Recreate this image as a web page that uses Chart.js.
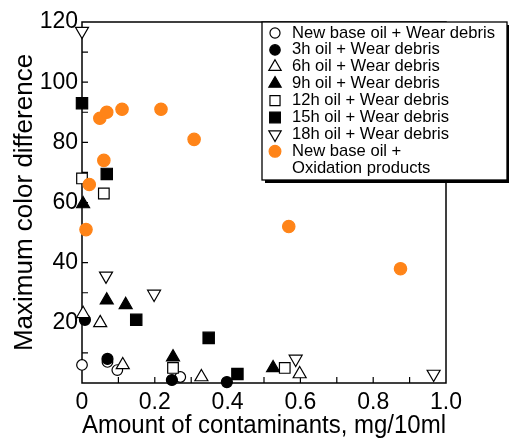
<!DOCTYPE html>
<html>
<head>
<meta charset="utf-8">
<script src="https://cdn.jsdelivr.net/npm/chart.js@4/dist/chart.umd.min.js"></script>
<style>
  body { margin: 0; background: #fff; }
  canvas { display: block; }
</style>
</head>
<body>
<canvas id="chart" width="509" height="441"></canvas>
<script>
// values (x in mg/10ml, y = max color difference)
const newBaseX = [0, 0.07, 0.097, 0.27];
const newBaseY = [6, 7, 4.3, 2];
const h3X = [0.008, 0.07, 0.247, 0.398];
const h3Y = [21, 8, 1, 0.3];
const h6X = [0.003, 0.05, 0.112, 0.328, 0.598];
const h6Y = [23, 20, 6, 2, 3];
const h9X = [0.003, 0.068, 0.12, 0.25, 0.525];
const h9Y = [59.5, 27.5, 26, 8.6, 5];
const h12X = [0, 0.06, 0.25, 0.557];
const h12Y = [68, 63, 5, 5];
const h15X = [0, 0.068, 0.149, 0.348, 0.427];
const h15Y = [93, 69.5, 21, 15, 3];
const h18X = [0, 0.066, 0.198, 0.587, 0.966];
const h18Y = [117, 35.6, 29.6, 8, 3];
const oxX = [0.011, 0.02, 0.049, 0.06, 0.068, 0.11, 0.217, 0.308, 0.568, 0.875];
const oxY = [51, 66, 88, 74, 90, 91, 91, 81, 52, 38];

const labels = [
  "New base oil + Wear debris",
  "3h oil + Wear debris",
  "6h oil + Wear debris",
  "9h oil + Wear debris",
  "12h oil + Wear debris",
  "15h oil + Wear debris",
  "18h oil + Wear debris",
  ["New base oil +", "Oxidation products"]
];

const FONT = "'Liberation Sans', Arial, sans-serif";
const ORANGE = "#ff8418";

function pts(xs, ys) {
  return xs.map((x, i) => ({ x: x, y: ys[i] }));
}

// marker style per series
const styles = [
  { pointStyle: "circle", radius: 5.3, fill: "#fff", rotation: 0 },
  { pointStyle: "circle", radius: 5.5, fill: "#000", rotation: 0 },
  { pointStyle: "triangle", radius: 7.5, fill: "#fff", rotation: 0 },
  { pointStyle: "triangle", radius: 7.5, fill: "#000", rotation: 0 },
  { pointStyle: "rect", radius: 7.5, fill: "#fff", rotation: 0 },
  { pointStyle: "rect", radius: 8, fill: "#000", rotation: 0 },
  { pointStyle: "triangle", radius: 7.5, fill: "#fff", rotation: 180 },
  { pointStyle: "circle", radius: 6.2, fill: ORANGE, rotation: 0, border: ORANGE }
];

const series = [
  pts(newBaseX, newBaseY), pts(h3X, h3Y), pts(h6X, h6Y), pts(h9X, h9Y),
  pts(h12X, h12Y), pts(h15X, h15Y), pts(h18X, h18Y), pts(oxX, oxY)
];

const datasets = series.map((d, i) => ({
  label: Array.isArray(labels[i]) ? labels[i].join(" ") : labels[i],
  data: d,
  order: -i,
  clip: false,
  pointStyle: styles[i].pointStyle,
  pointRadius: styles[i].radius,
  pointHoverRadius: styles[i].radius,
  pointRotation: styles[i].rotation,
  backgroundColor: styles[i].fill,
  borderColor: styles[i].border || "#000",
  borderWidth: 1.2
}));

// frame and inward ticks
const framePlugin = {
  id: "frame",
  beforeDatasetsDraw(chart) {
    const { ctx, chartArea: a, scales } = chart;
    ctx.save();
    ctx.strokeStyle = "#000";
    ctx.lineWidth = 1.5;
    ctx.strokeRect(a.left, a.top, a.right - a.left, a.bottom - a.top);
    ctx.lineWidth = 1.2;
    ctx.beginPath();
    for (let v = 1; v < 10; v++) {
      const px = scales.x.getPixelForValue(v / 10);
      ctx.moveTo(px, a.bottom);
      ctx.lineTo(px, a.bottom - 6);
    }
    for (let v = 10; v < 120; v += 10) {
      const py = scales.y.getPixelForValue(v);
      ctx.moveTo(a.left, py);
      ctx.lineTo(a.left + 6, py);
    }
    ctx.stroke();
    ctx.restore();
  }
};

// legend box drawn inside the plot, top right
const legendPlugin = {
  id: "boxLegend",
  afterDraw(chart) {
    const ctx = chart.ctx;
    const bx = 262, by = 22, bw = 245, bh = 158;
    ctx.save();
    ctx.fillStyle = "#000";
    ctx.fillRect(bx + 3, by + 3, bw, bh);
    ctx.fillStyle = "#fff";
    ctx.fillRect(bx, by, bw, bh);
    ctx.strokeStyle = "#000";
    ctx.lineWidth = 1.3;
    ctx.strokeRect(bx, by, bw, bh);

    ctx.font = "16.6px " + FONT;
    ctx.textBaseline = "middle";
    ctx.textAlign = "left";
    const rowH = 16.9;
    let y = 33;
    labels.forEach((lab, i) => {
      const s = styles[i];
      ctx.fillStyle = s.fill;
      ctx.strokeStyle = s.border || "#000";
      ctx.lineWidth = 1.2;
      Chart.helpers.drawPoint(ctx, {
        pointStyle: s.pointStyle,
        radius: s.radius * 0.95,
        rotation: s.rotation,
        borderWidth: 1.2
      }, 275, y);
      ctx.fillStyle = "#000";
      const lines = Array.isArray(lab) ? lab : [lab];
      lines.forEach((t) => {
        ctx.fillText(t, 292, y);
        y += rowH;
      });
    });
    ctx.restore();
  }
};

new Chart(document.getElementById("chart"), {
  type: "scatter",
  data: { datasets: datasets },
  options: {
    responsive: false,
    animation: false,
    layout: { padding: { top: 22, right: 63, left: 0, bottom: 0 } },
    plugins: {
      legend: { display: false },
      tooltip: { enabled: false }
    },
    scales: {
      x: {
        type: "linear",
        min: 0,
        max: 1,
        afterFit: (s) => { s.height = 58; },
        grid: { display: false, drawTicks: false },
        border: { display: false },
        ticks: {
          stepSize: 0.2,
          padding: 6,
          color: "#000",
          font: { family: FONT, size: 23 },
          callback: (v) => (v === 0 ? "0" : v.toFixed(1))
        },
        title: {
          display: true,
          text: "Amount of contaminants, mg/10ml",
          color: "#000",
          font: { family: FONT, size: 26 },
          padding: { top: 0, bottom: 0 }
        }
      },
      y: {
        type: "linear",
        min: 0,
        max: 120,
        afterFit: (s) => { s.width = 82; },
        grid: { display: false, drawTicks: false },
        border: { display: false },
        ticks: {
          stepSize: 20,
          padding: 4,
          color: "#000",
          font: { family: FONT, size: 23 },
          callback: (v) => (v === 0 ? "" : v)
        },
        title: {
          display: true,
          text: "Maximum color difference",
          color: "#000",
          font: { family: FONT, size: 26 },
          padding: { top: 9, bottom: 0 }
        }
      }
    }
  },
  plugins: [framePlugin, legendPlugin]
});
</script>
</body>
</html>
